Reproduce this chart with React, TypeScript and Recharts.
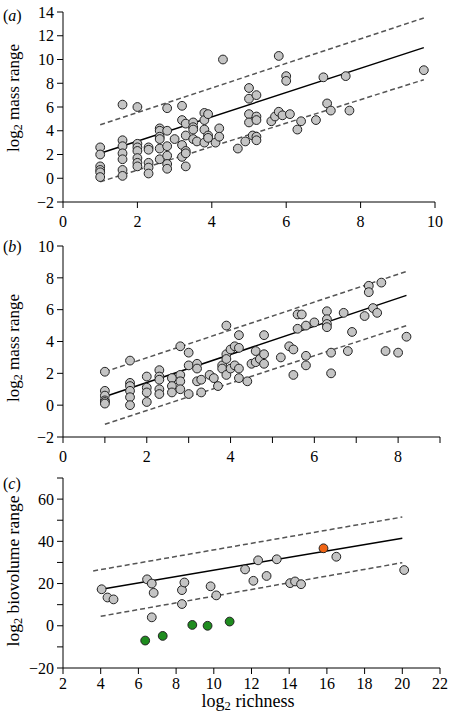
import React from 'react';
import { ComposedChart, Scatter, XAxis, YAxis, ReferenceLine } from 'recharts';

const serif = 'Liberation Serif, Tinos, DejaVu Serif, Times New Roman, serif';

// Panel (a)
const aRichness = [
  1, 1, 1, 1, 1, 1,
  1.6, 1.6, 1.6, 1.6, 1.6, 1.6, 1.6,
  2, 2, 2, 2, 2, 2, 2,
  2.3, 2.3, 2.3, 2.3, 2.3,
  2.6, 2.6, 2.6, 2.6, 2.6, 2.6,
  2.8, 2.8, 2.8, 2.8, 2.8, 2.8,
  3.0,
  3.2, 3.2, 3.2, 3.2,
  3.3, 3.3, 3.3, 3.3, 3.3,
  3.5, 3.5, 3.5, 3.5,
  3.6,
  3.8, 3.8, 3.8, 3.8,
  3.9, 3.9, 3.9,
  4.1,
  4.2, 4.2,
  4.3,
  4.7,
  4.9,
  5.0, 5.0, 5.0, 5.0,
  5.1,
  5.2, 5.2, 5.2, 5.2, 5.2,
  5.6, 5.7,
  5.8, 5.8,
  5.9,
  6.0, 6.0,
  6.1, 6.3, 6.4, 6.8, 7.0, 7.1, 7.2, 7.6, 7.7, 9.7,
];
const aMassRange = [
  2.6, 2.0, 1.0, 0.7, 0.5, 0.1,
  6.2, 3.2, 2.7, 2.1, 1.6, 0.7, 0.2,
  6.0, 2.9, 2.6, 2.3, 1.7, 1.3, 1.0,
  2.6, 2.4, 1.3, 0.9, 0.4,
  4.2, 4.0, 3.5, 3.3, 2.5, 1.6,
  5.9, 4.0, 2.7, 1.9, 1.2, 0.8,
  3.3,
  6.1, 4.9, 2.8, 1.8,
  4.6, 3.6, 2.3, 2.1, 1.0,
  4.7, 4.3, 4.1, 3.3,
  3.1,
  5.5, 4.9, 4.1, 3.0,
  5.4, 3.6, 3.4,
  3.0,
  4.2, 3.5,
  10.0,
  2.5,
  3.1,
  7.6, 6.7, 5.4, 4.7,
  3.6,
  7.0, 5.2, 4.9, 3.5, 3.2,
  4.8, 5.2,
  10.3, 5.6,
  5.3,
  8.6, 8.2,
  5.4, 4.1, 4.8, 4.9, 8.5, 6.3, 5.7, 8.6, 5.7, 9.1,
];
const aFitX = [0.9, 9.7];
const aFitY = [2.0, 11.0];
const aUpperY = [4.5, 13.5];
const aLowerY = [-0.3, 8.3];
const aBandX = [1.0, 9.7];
const aXTicks = [0, 2, 4, 6, 8, 10];
const aYTicks = [-2, 0, 2, 4, 6, 8, 10, 12, 14];

// Panel (b)
const bRichness = [
  1, 1, 1, 1, 1, 1,
  1.6, 1.6, 1.6, 1.6, 1.6, 1.6,
  2.0, 2.0, 2.0, 2.0,
  2.3, 2.3, 2.3, 2.3, 2.3,
  2.6, 2.6, 2.6,
  2.8, 2.8, 2.8, 2.8,
  3.0, 3.0, 3.0,
  3.2, 3.2, 3.2,
  3.3, 3.3,
  3.5, 3.6, 3.7,
  3.8, 3.8,
  3.9, 3.9, 3.9, 3.9,
  4.0, 4.0,
  4.1, 4.1,
  4.2, 4.2, 4.2, 4.2,
  4.4, 4.5,
  4.6, 4.6, 4.7,
  4.8, 4.8, 4.8,
  5.2, 5.4, 5.5, 5.5,
  5.6, 5.6, 5.7,
  5.8, 5.8, 5.8,
  6.0,
  6.3, 6.3, 6.3, 6.3,
  6.4, 6.4,
  6.7, 6.8, 6.9,
  7.2, 7.3, 7.3, 7.4, 7.5, 7.6, 7.7, 8.0, 8.2,
];
const bMassRange = [
  2.1, 0.9, 0.6, 0.3, 0.2, 0.1,
  2.8, 1.4, 1.2, 0.9, 0.5, 0.0,
  1.8, 1.1, 0.8, 0.2,
  2.2, 1.8, 1.6, 1.0, 0.7,
  1.7, 1.2, 0.8,
  3.7, 1.9, 1.5, 1.0,
  3.3, 2.5, 0.7,
  2.6, 2.3, 1.5,
  1.6, 0.8,
  1.9, 1.7, 1.2,
  2.5, 2.3,
  5.0, 3.2, 2.9, 1.9,
  3.5, 2.3,
  3.7, 2.5,
  4.4, 3.6, 2.3, 1.7,
  1.5, 2.6,
  3.4, 2.7, 2.9,
  4.4, 3.2, 2.6,
  3.0, 3.7, 3.5, 1.9,
  5.7, 4.8, 5.7,
  5.0, 3.1, 2.5,
  5.2,
  5.9, 5.4, 5.1, 4.9,
  3.3, 2.0,
  5.8, 3.4, 4.6,
  5.6, 7.5, 7.1, 6.1, 5.8, 7.7, 3.4, 3.3, 4.3,
];
const bFitX = [0.9, 8.2];
const bFitY = [0.45, 6.9];
const bUpperY = [2.1, 8.4];
const bLowerY = [-1.2, 5.0];
const bBandX = [1.0, 8.2];
const bXTicks = [0, 1, 2, 3, 4, 5, 6, 7, 8, 9];
const bYTicks = [-2, 0, 2, 4, 6, 8, 10];

// Panel (c)
const cRichness = [4.05, 4.36, 4.68, 6.46, 6.71, 6.81, 6.71, 8.31, 8.31, 8.44, 9.83, 10.13, 11.66, 12.1, 12.35, 12.8, 13.34, 14.05, 14.31, 14.63, 16.5, 20.1];
const cBiovolume = [17.3, 13.4, 12.5, 22.0, 20.0, 15.6, 4.0, 16.9, 10.3, 20.5, 18.7, 14.4, 26.7, 21.3, 31.0, 23.6, 31.5, 20.2, 21.0, 19.7, 32.7, 26.4];
const cOrangeRichness = [15.82];
const cOrangeBiovolume = [36.7];
const cGreenRichness = [6.36, 7.29, 8.86, 9.67, 10.84];
const cGreenBiovolume = [-7.0, -4.8, 0.4, 0.0, 2.0];
const cFitX = [3.8, 20.0];
const cFitY = [17.0, 41.5];
const cUpperX = [3.6, 20.0];
const cUpperY = [26.0, 51.5];
const cLowerX = [4.0, 20.0];
const cLowerY = [4.5, 29.9];
const cXTicks = [2, 4, 6, 8, 10, 12, 14, 16, 18, 20, 22];
const cYTicks = [-20, -10, 0, 10, 20, 30, 40, 50, 60, 70];

const zip = (xs: number[], ys: number[]) => xs.map((x, i) => ({ x, y: ys[i] }));
const seg = (xs: number[], ys: number[]) => [{ x: xs[0], y: ys[0] }, { x: xs[1], y: ys[1] }] as any;

const fmt = (v: number) => (v < 0 ? '\u2212' + Math.abs(v) : String(v));

const dot = (fill: string) => (p: any) => (
  <circle cx={p.cx} cy={p.cy} r={4.4} fill={fill} stroke="#222" strokeWidth={1} />
);

const GRAY = '#c4c4c4';
const GREEN = '#1e8c1e';
const ORANGE = '#f06414';

function YTitle({ cx, cy, fs, text, letter, ly }: any) {
  return (
    <g>
      <text
        x={cx}
        y={cy}
        transform={`rotate(-90 ${cx} ${cy})`}
        textAnchor="middle"
        dominantBaseline="central"
        style={{ fontFamily: serif, fontSize: fs }}
        fill="#000"
      >
        log
        <tspan dy={fs * 0.3} style={{ fontSize: fs * 0.7 }}>2</tspan>
        <tspan dy={-fs * 0.3}>{'\u00A0' + text}</tspan>
      </text>
      <text x={3} y={ly} dominantBaseline="central" style={{ fontFamily: serif, fontSize: 16 }} fill="#000">
        (<tspan style={{ fontStyle: 'italic' }}>{letter}</tspan>)
      </text>
    </g>
  );
}

function XTitle({ cx, cy, fs }: any) {
  return (
    <text x={cx} y={cy} textAnchor="middle" dominantBaseline="central" style={{ fontFamily: serif, fontSize: fs }} fill="#000">
      log
      <tspan dy={fs * 0.3} style={{ fontSize: fs * 0.7 }}>2</tspan>
      <tspan dy={-fs * 0.3}>{'\u00A0richness'}</tspan>
    </text>
  );
}

const axisStyle = { stroke: '#000', strokeWidth: 1 };
const tickStyle = (fs: number) => ({ fill: '#000', fontSize: fs, fontFamily: serif, style: { fontFamily: serif } });

export default function App() {
  const dataA = zip(aRichness, aMassRange);
  const dataB = zip(bRichness, bMassRange);
  const dataC = zip(cRichness, cBiovolume);
  const dataCO = zip(cOrangeRichness, cOrangeBiovolume);
  const dataCG = zip(cGreenRichness, cGreenBiovolume);
  const dashStroke = { stroke: '#555', strokeWidth: 1.5, strokeDasharray: '5 3' };
  const solidStroke = { stroke: '#000', strokeWidth: 1.5 };

  return (
    <div style={{ position: 'absolute', left: 0, top: 0, width: 450, height: 724, background: '#fff', fontFamily: serif }}>
      <div style={{ position: 'absolute', left: 0, top: 0 }}>
        <ComposedChart width={450} height={230} margin={{ top: 12, right: 15, bottom: 0, left: 0 }}>
          <XAxis
            type="number"
            dataKey="x"
            domain={[0, 10]}
            ticks={aXTicks}
            interval={0}
            height={28}
            tickSize={6}
            tickMargin={8}
            axisLine={axisStyle}
            tickLine={axisStyle}
            tick={tickStyle(16)}
          />
          <YAxis
            type="number"
            dataKey="y"
            domain={[-2, 14]}
            ticks={aYTicks}
            interval={0}
            width={63}
            tickSize={6}
            tickMargin={3}
            tickFormatter={fmt}
            axisLine={axisStyle}
            tickLine={axisStyle}
            tick={tickStyle(16)}
            label={{ content: () => <YTitle cx={13} cy={98} fs={17} text="mass range" letter="a" ly={15} /> }}
          />
          <ReferenceLine segment={seg(aBandX, aUpperY)} {...dashStroke} />
          <ReferenceLine segment={seg(aBandX, aLowerY)} {...dashStroke} />
          <ReferenceLine segment={seg(aFitX, aFitY)} {...solidStroke} />
          <Scatter data={dataA} isAnimationActive={false} shape={dot(GRAY)} />
        </ComposedChart>
      </div>
      <div style={{ position: 'absolute', left: 0, top: 230 }}>
        <ComposedChart width={450} height={235} margin={{ top: 16, right: 10, bottom: 0, left: 0 }}>
          <XAxis
            type="number"
            dataKey="x"
            domain={[0, 9]}
            ticks={bXTicks}
            interval={0}
            height={28}
            tickSize={6}
            tickMargin={8}
            tickFormatter={(v: number) => (v % 2 === 0 && v < 9 ? String(v) : '')}
            axisLine={axisStyle}
            tickLine={axisStyle}
            tick={tickStyle(16)}
          />
          <YAxis
            type="number"
            dataKey="y"
            domain={[-2, 10]}
            ticks={bYTicks}
            interval={0}
            width={63}
            tickSize={6}
            tickMargin={3}
            tickFormatter={fmt}
            axisLine={axisStyle}
            tickLine={axisStyle}
            tick={tickStyle(16)}
            label={{ content: () => <YTitle cx={13} cy={118} fs={17} text="mass range" letter="b" ly={16} /> }}
          />
          <ReferenceLine segment={seg(bBandX, bUpperY)} {...dashStroke} />
          <ReferenceLine segment={seg(bBandX, bLowerY)} {...dashStroke} />
          <ReferenceLine segment={seg(bFitX, bFitY)} {...solidStroke} />
          <Scatter data={dataB} isAnimationActive={false} shape={dot(GRAY)} />
        </ComposedChart>
      </div>
      <div style={{ position: 'absolute', left: 0, top: 465 }}>
        <ComposedChart width={450} height={259} margin={{ top: 13, right: 10, bottom: 0, left: 0 }}>
          <XAxis
            type="number"
            dataKey="x"
            domain={[2, 22]}
            ticks={cXTicks}
            interval={0}
            height={56}
            tickSize={6}
            tickMargin={4}
            axisLine={axisStyle}
            tickLine={axisStyle}
            tick={tickStyle(16)}
            label={{ content: () => <XTitle cx={248} cy={236} fs={18} /> }}
          />
          <YAxis
            type="number"
            dataKey="y"
            domain={[-20, 70]}
            ticks={cYTicks}
            interval={0}
            width={63}
            tickSize={6}
            tickMargin={3}
            tickFormatter={(v: number) => (v % 20 === 0 ? fmt(v) : '')}
            axisLine={axisStyle}
            tickLine={axisStyle}
            tick={tickStyle(16)}
            label={{ content: () => <YTitle cx={13} cy={106} fs={17.5} text="biovolume range" letter="c" ly={18} /> }}
          />
          <ReferenceLine segment={seg(cUpperX, cUpperY)} {...dashStroke} />
          <ReferenceLine segment={seg(cLowerX, cLowerY)} {...dashStroke} />
          <ReferenceLine segment={seg(cFitX, cFitY)} {...solidStroke} />
          <Scatter data={dataC} isAnimationActive={false} shape={dot(GRAY)} />
          <Scatter data={dataCO} isAnimationActive={false} shape={dot(ORANGE)} />
          <Scatter data={dataCG} isAnimationActive={false} shape={dot(GREEN)} />
        </ComposedChart>
      </div>
    </div>
  );
}
